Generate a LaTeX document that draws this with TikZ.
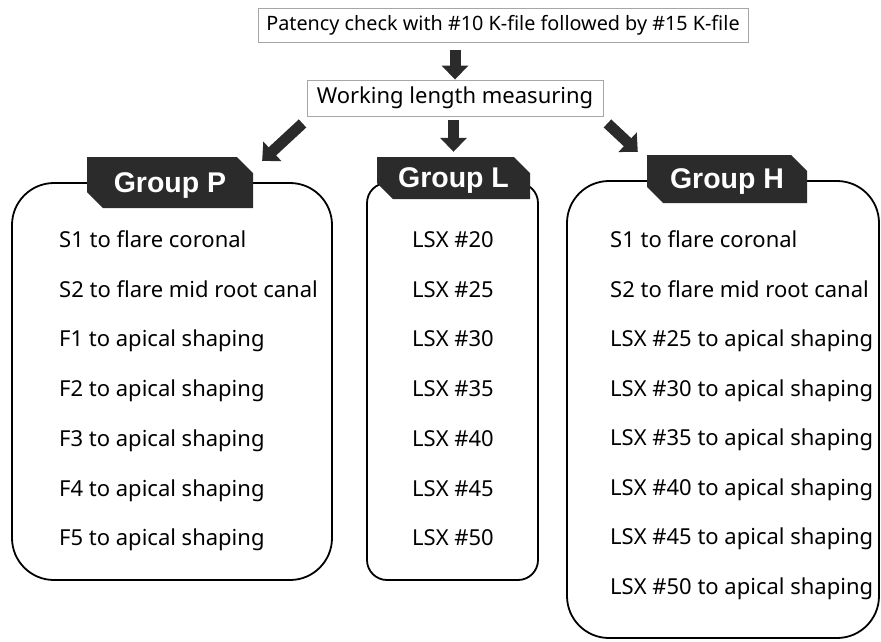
\documentclass[tikz,border=0pt]{standalone}
\usepackage{fontspec}
\setmainfont{Noto Sans}
\newfontfamily\tabfont{Liberation Sans}
\usetikzlibrary{arrows.meta,shapes.misc}
\definecolor{dark}{HTML}{2B2B2B}
\begin{document}
\begin{tikzpicture}[x=1pt,y=-1pt,
  every node/.style={font=\fontsize{22}{26}\selectfont},
  topbox/.style={draw=gray!70, line width=0.9pt, inner sep=0pt},
  fatarrow/.style={draw=dark, line width=11pt, -{Triangle[width=26pt,length=14pt]}},
  tab/.style={chamfered rectangle, chamfered rectangle corners={north east,south west},
    chamfered rectangle xsep=8pt, chamfered rectangle ysep=8pt, fill=dark, text=white,
    font=\tabfont\fontsize{28.5}{32}\bfseries\selectfont, inner sep=0pt},
  gbox/.style={draw=black, line width=1.8pt, inner sep=0pt},
  item/.style={anchor=west, inner sep=0pt, text height=16pt, text depth=5pt},
  litem/.style={anchor=center, inner sep=0pt, text height=16pt, text depth=5pt},
]
\useasboundingbox (0,0) rectangle (881,641);
% top boxes
\node[topbox, minimum width=490, minimum height=34, font=\fontsize{19.8}{24}\selectfont] (patency) at (503,25)
  {Patency check with \#10 K-file followed by \#15 K-file};
\node[topbox, minimum width=296, minimum height=36] (work) at (455,98)
  {Working length measuring};
% group boxes
\node[gbox, rounded corners=42pt, minimum width=320, minimum height=397] (boxP) at (172,381.5) {};
\node[gbox, rounded corners=20pt, minimum width=171, minimum height=397] (boxL) at (452.5,381.5) {};
\node[gbox, rounded corners=42pt, minimum width=312, minimum height=457] (boxH) at (723,409.5) {};
% tabs
\node[tab, minimum width=166, minimum height=51, text depth=0pt] (tabP) at (170,182.5) {Group P};
\node[tab, minimum width=153, minimum height=42, text depth=0pt] (tabL) at (453.5,178) {Group L};
\node[tab, minimum width=160, minimum height=48, text depth=0pt] (tabH) at (727,179) {Group H};
% arrows
\draw[fatarrow, shorten <=8pt] (patency.south -| work.north) -- (work.north);
\draw[fatarrow, shorten <=4pt, shorten >=5pt] (work.south -| tabL.north) -- (tabL.north);
\draw[fatarrow] ([shift={(-4,7)}]work.south west) -- ([shift={(17,-4)}]tabP.north east);
\draw[fatarrow] ([shift={(4,7)}]work.south east) -- ([shift={(-9,-3)}]tabH.north west);
% items
\foreach \t [count=\i] in {S1 to flare coronal, S2 to flare mid root canal,
  F1 to apical shaping, F2 to apical shaping, F3 to apical shaping,
  F4 to apical shaping, F5 to apical shaping}
  \node[item] (p\i) at (59,{242+49.7*(\i-1)}) {\t};
\foreach \t [count=\i] in {LSX \#20, LSX \#25, LSX \#30, LSX \#35, LSX \#40, LSX \#45, LSX \#50}
  \node[litem] (l\i) at (453,{242+49.7*(\i-1)}) {\t};
\foreach \t [count=\i] in {S1 to flare coronal, S2 to flare mid root canal,
  LSX \#25 to apical shaping, LSX \#30 to apical shaping, LSX \#35 to apical shaping,
  LSX \#40 to apical shaping, LSX \#45 to apical shaping, LSX \#50 to apical shaping}
  \node[item] (h\i) at (610,{242+49.5*(\i-1)}) {\t};
\end{tikzpicture}
\end{document}
